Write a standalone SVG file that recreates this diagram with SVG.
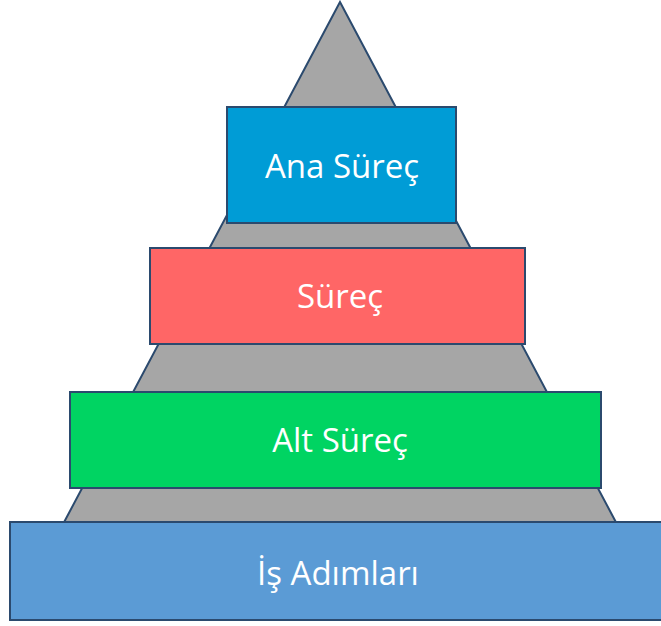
<svg xmlns="http://www.w3.org/2000/svg" width="661" height="626" viewBox="0 0 661 626">
<style>
.box{stroke:#2B4A6E;stroke-width:2}
.lbl{font-family:"Open Sans","Noto Sans",sans-serif;font-size:33px;fill:#ffffff;text-anchor:middle}
</style>
<rect width="661" height="626" fill="#ffffff"/>
<g id="pyramid">
<polygon points="340,2 44,560 636,560" fill="#A6A6A6" stroke="#2B4A6E" stroke-width="2"/>
</g>
<g id="ana-surec">
<rect class="box" x="227" y="107" width="229" height="116" fill="#009CD6"/>
<text class="lbl" x="342" y="178">Ana Süreç</text>
</g>
<g id="surec">
<rect class="box" x="150" y="248" width="375" height="96" fill="#FF6666"/>
<text class="lbl" x="340" y="308">Süreç</text>
</g>
<g id="alt-surec">
<rect class="box" x="70" y="392" width="531" height="96" fill="#00D462"/>
<text class="lbl" x="340" y="452">Alt Süreç</text>
</g>
<g id="is-adimlari">
<rect class="box" x="10" y="522" width="660" height="98" fill="#5B9BD5"/>
<text class="lbl" x="338" y="585">İş Adımları</text>
</g>
<g id="connectors"/>
</svg>
